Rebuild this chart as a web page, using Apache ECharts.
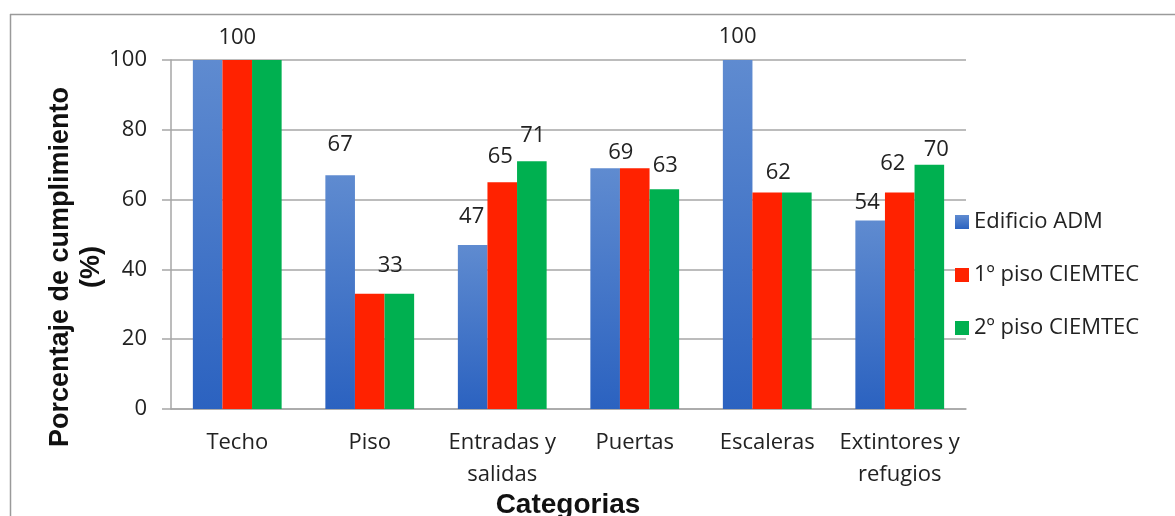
<!DOCTYPE html>
<html>
<head>
<meta charset="utf-8">
<script src="https://cdn.jsdelivr.net/npm/echarts@6/dist/echarts.min.js"></script>
<style>
  html, body { margin: 0; padding: 0; background: #fff; }
  #chart { width: 1175px; height: 516px; }
</style>
</head>
<body>
<div id="chart"></div>
<script>
// categorias y valores (%)
const categories = ['Techo', 'Piso', 'Entradas y\nsalidas', 'Puertas', 'Escaleras', 'Extintores y\nrefugios']
const seriesNames = ['Edificio ADM', '1º piso CIEMTEC', '2º piso CIEMTEC']
const edificioAdm = [100, 67, 47, 69, 100, 54]
const piso1 = [100, 33, 65, 69, 62, 62]
const piso2 = [100, 33, 71, 63, 62, 70]
const yTicks = [0, 20, 40, 60, 80, 100]

// which data labels are visible (as in the original)
const shownAdm = [false, true, true, false, true, true]
const shown1 = [true, false, true, true, true, true]
const shown2 = [false, true, true, true, false, true]

// small nudges of the visible labels [dx, dy]
const nudges = [
  [null, [0, -19], [-1, -17], null, [0, -12], [-3, -7]],
  [[0, -11], null, [-2, -14], [-14, -4], [11, -9], [-7, -18]],
  [null, [-9, -17], [1, -14], [1, -12], null, [7, -4]]
]

const colors = [
  new echarts.graphic.LinearGradient(0, 0, 0, 1, [
    { offset: 0, color: '#5f8bd0' },
    { offset: 1, color: '#2b62c0' }
  ]),
  '#ff2200',
  '#00b050'
]

const build = (vals, shown, k) => vals.map((v, i) => ({
  value: v,
  label: {
    show: shown[i],
    offset: nudges[k][i] || [0, 0]
  }
}))

const allData = [
  build(edificioAdm, shownAdm, 0),
  build(piso1, shown1, 1),
  build(piso2, shown2, 2)
]

const chart = echarts.init(document.getElementById('chart'))

chart.setOption({
  animation: false,
  textStyle: { fontFamily: 'Open Sans' },
  grid: { left: 171, right: 209, top: 60, bottom: 107, containLabel: false, outerBoundsMode: 'none' },
  legend: {
    orient: 'vertical',
    left: 950,
    top: 206,
    icon: 'rect',
    itemWidth: 14,
    itemHeight: 14,
    itemGap: 31,
    data: seriesNames,
    textStyle: { fontSize: 22, lineHeight: 22, color: '#222', fontFamily: 'Open Sans' }
  },
  xAxis: {
    type: 'category',
    data: categories,
    axisLine: { lineStyle: { color: '#a6a6a6', width: 1.5 } },
    axisTick: { length: 9, lineStyle: { color: '#a6a6a6', width: 1.5 } },
    axisLabel: { fontSize: 22, lineHeight: 32, color: '#222', margin: 18, interval: 0 }
  },
  yAxis: {
    type: 'value',
    min: 0,
    max: 100,
    interval: 20,
    axisLine: { show: true, lineStyle: { color: '#a6a6a6', width: 1.5 } },
    axisTick: { show: true, length: 9, lineStyle: { color: '#a6a6a6', width: 1.5 } },
    axisLabel: {
      fontSize: 22, color: '#222', margin: 24,
      formatter: v => yTicks.includes(v) ? String(v) : ''
    },
    splitLine: { lineStyle: { color: '#a6a6a6', width: 1.5 } }
  },
  series: seriesNames.map((name, k) => ({
    name: name,
    type: 'bar',
    data: allData[k],
    barGap: '0%',
    barCategoryGap: '33%',
    itemStyle: { color: colors[k] },
    label: {
      position: 'top',
      distance: 0,
      fontSize: 22,
      color: '#222',
      fontFamily: 'Open Sans'
    }
  })),
  graphic: [
    {
      type: 'line',
      shape: { x1: 10, y1: 14.5, x2: 1175, y2: 14.5 },
      style: { stroke: '#9a9a9a', lineWidth: 1.5 }
    },
    {
      type: 'line',
      shape: { x1: 10.5, y1: 14, x2: 10.5, y2: 516 },
      style: { stroke: '#9a9a9a', lineWidth: 1.5 }
    },
    // titulo eje Y
    {
      type: 'text',
      x: 76,
      y: 267,
      rotation: Math.PI / 2,
      style: {
        text: 'Porcentaje de cumplimiento\n(%)',
        fontSize: 27,
        fontWeight: 'bold',
        lineHeight: 31,
        fontFamily: 'Liberation Sans',
        fill: '#111',
        align: 'center',
        verticalAlign: 'middle'
      }
    },
    // titulo eje X
    {
      type: 'text',
      x: 568,
      y: 505,
      style: {
        text: 'Categorias',
        fontSize: 28,
        fontWeight: 'bold',
        fontFamily: 'Liberation Sans',
        fill: '#111',
        align: 'center',
        verticalAlign: 'middle'
      }
    }
  ]
})
</script>
</body>
</html>
